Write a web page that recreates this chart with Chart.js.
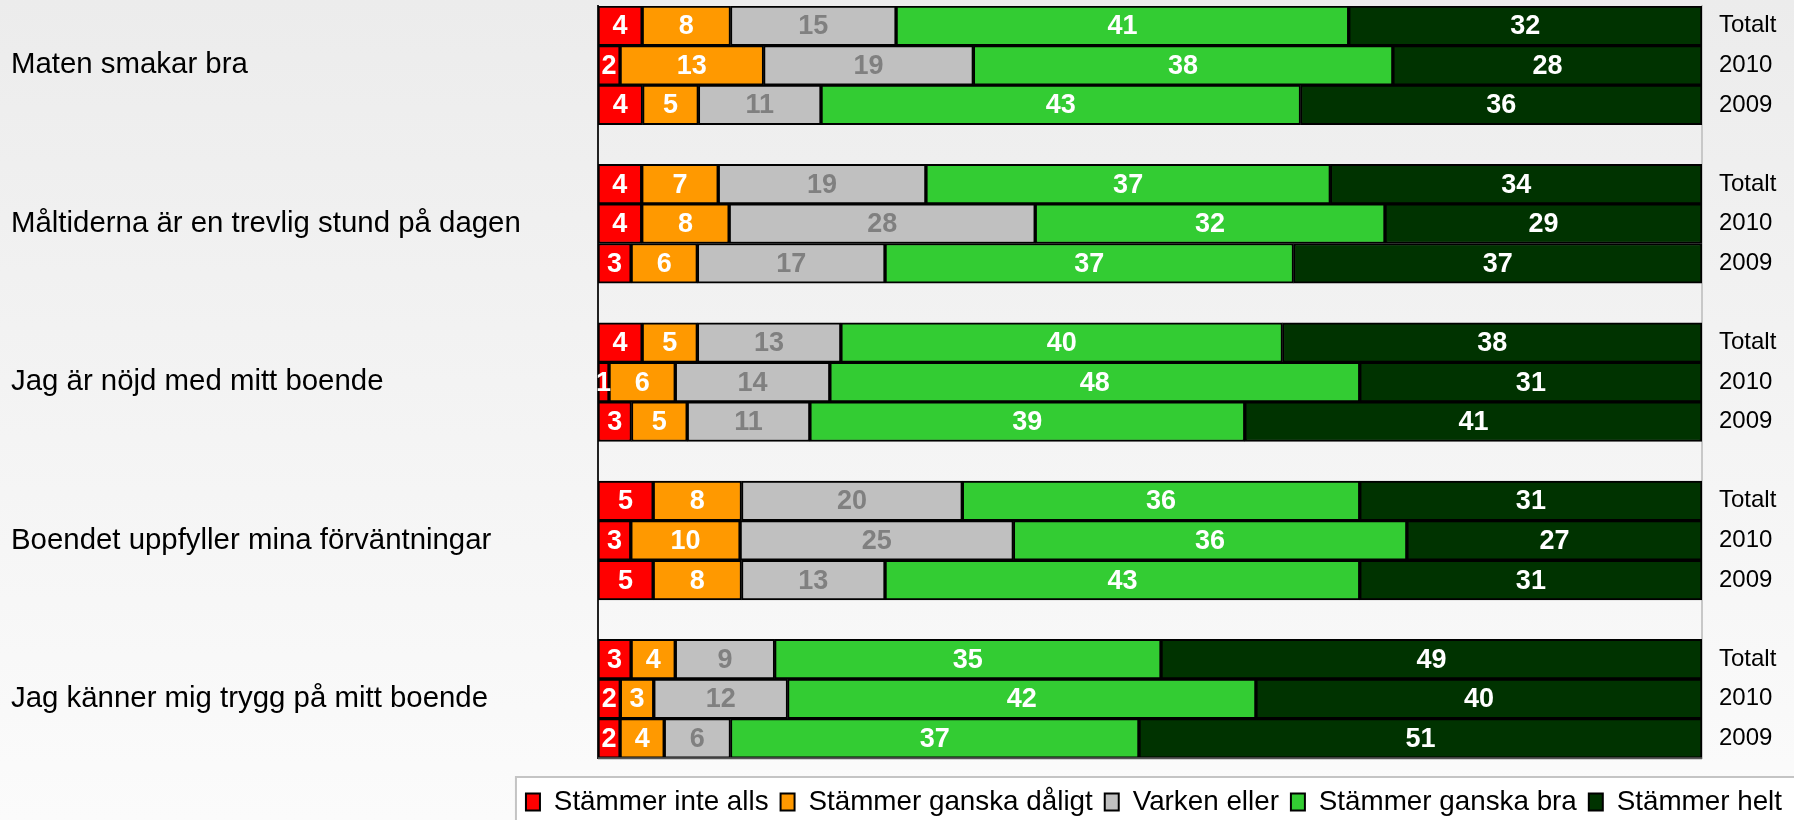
<!DOCTYPE html>
<html lang="sv">
<head>
<meta charset="utf-8">
<title>Trivsel och mat</title>
<script src="https://cdn.jsdelivr.net/npm/chart.js@4/dist/chart.umd.min.js"></script>
<style>
  html, body { margin: 0; padding: 0; }
  body {
    width: 1794px;
    height: 820px;
    overflow: hidden;
    background: linear-gradient(#ececec, #fbfbfb);
  }
  #wrap { position: relative; width: 1794px; height: 820px; }
</style>
</head>
<body>
<div id="wrap"><canvas id="chart" width="1794" height="820"></canvas></div>
<script>
// question groups, and the three rows shown for each one
const groups = [
  "Maten smakar bra",
  "Måltiderna är en trevlig stund på dagen",
  "Jag är nöjd med mitt boende",
  "Boendet uppfyller mina förväntningar",
  "Jag känner mig trygg på mitt boende"
];
const rowLabels = ["Totalt", "2010", "2009"];

const seriesNames = [
  "Stämmer inte alls",
  "Stämmer ganska dåligt",
  "Varken eller",
  "Stämmer ganska bra",
  "Stämmer helt"
];

// values per row: Totalt, 2010, 2009 for each group in order
const stammerInteAlls     = [4, 2, 4,   4, 4, 3,   4, 1, 3,   5, 3, 5,   3, 2, 2];
const stammerGanskaDaligt = [8, 13, 5,  7, 8, 6,   5, 6, 5,   8, 10, 8,  4, 3, 4];
const varkenEller         = [15, 19, 11, 19, 28, 17, 13, 14, 11, 20, 25, 13, 9, 12, 6];
const stammerGanskaBra    = [41, 38, 43, 37, 32, 37, 40, 48, 39, 36, 36, 43, 35, 42, 37];
const stammerHelt         = [32, 28, 36, 34, 29, 37, 38, 31, 41, 31, 27, 31, 49, 40, 51];

const fills = ["#ff0000", "#ff9900", "#c0c0c0", "#33cc33", "#003300"];
const labelColors = ["#ffffff", "#ffffff", "#808080", "#ffffff", "#ffffff"];

const allSeries = [stammerInteAlls, stammerGanskaDaligt, varkenEller, stammerGanskaBra, stammerHelt];
const FONT = '"Liberation Sans", Arial, sans-serif';

// build the category rows: 3 bars per group, then one empty row between groups
const leftLabels = [];
const rightLabels = [];
const rowIndex = []; // category slot -> data row (or null for the blank slot)
groups.forEach(function (g, gi) {
  rowLabels.forEach(function (r, ri) {
    leftLabels.push(ri === 1 ? g : "");
    rightLabels.push(r);
    rowIndex.push(gi * 3 + ri);
  });
  if (gi < groups.length - 1) {
    leftLabels.push("");
    rightLabels.push("");
    rowIndex.push(null);
  }
});

// 100% stacked: every row fills the full width
const rowSums = stammerInteAlls.map(function (_, i) {
  return allSeries.reduce(function (s, arr) { return s + arr[i]; }, 0);
});

const datasets = allSeries.map(function (arr, si) {
  return {
    label: seriesNames[si],
    data: rowIndex.map(function (r) { return r === null ? null : arr[r] / rowSums[r] * 100; }),
    raw: rowIndex.map(function (r) { return r === null ? null : arr[r]; }),
    backgroundColor: fills[si],
    borderColor: "#000000",
    borderWidth: 2,
    borderSkipped: false,
    barPercentage: 1,
    categoryPercentage: 1
  };
});

const barLabels = {
  id: "barLabels",
  afterDatasetsDraw(chart) {
    const ctx = chart.ctx;
    ctx.save();
    ctx.font = "bold 27px " + FONT;
    ctx.textAlign = "center";
    ctx.textBaseline = "middle";
    chart.data.datasets.forEach(function (ds, i) {
      const meta = chart.getDatasetMeta(i);
      meta.data.forEach(function (bar, j) {
        const v = ds.raw[j];
        if (v === null || v === undefined) return;
        ctx.fillStyle = labelColors[i];
        ctx.fillText(String(v), (bar.x + bar.base) / 2, bar.y + 1);
      });
    });
    ctx.restore();
  }
};

const frames = {
  id: "frames",
  beforeDraw(chart) {
    const ctx = chart.ctx;
    const lg = chart.legend;
    if (lg && lg.legendHitBoxes && lg.legendHitBoxes.length) {
      const first = lg.legendHitBoxes[0];
      ctx.save();
      ctx.fillStyle = "#ffffff";
      ctx.strokeStyle = "#c4c4c4";
      ctx.lineWidth = 2;
      ctx.fillRect(first.left - 10, 777, chart.width, 60);
      ctx.strokeRect(first.left - 10, 777, chart.width, 60);
      ctx.restore();
    }
  },
  afterDraw(chart) {
    const a = chart.chartArea;
    const ctx = chart.ctx;
    ctx.save();
    ctx.strokeStyle = "#555555";
    ctx.lineWidth = 2;
    ctx.beginPath();
    ctx.moveTo(a.left, a.bottom);
    ctx.lineTo(a.right, a.bottom);
    ctx.stroke();
    ctx.restore();
  }
};

function noEdgePadding(s) {
  s.paddingTop = 0;
  s.paddingBottom = 0;
}

new Chart(document.getElementById("chart").getContext("2d"), {
  type: "bar",
  data: { labels: leftLabels, datasets: datasets },
  plugins: [frames, barLabels],
  options: {
    responsive: false,
    animation: false,
    indexAxis: "y",
    layout: { padding: { top: 6, left: 11, right: 0, bottom: -6 } },
    scales: {
      x: {
        stacked: true,
        min: 0,
        max: 100,
        ticks: { display: false },
        grid: { display: false },
        border: { display: false },
        afterFit(s) { s.height = 18; }
      },
      y: {
        type: "category",
        position: "left",
        stacked: true,
        offset: true,
        labels: leftLabels,
        grid: { display: false, drawTicks: false },
        border: { display: true, color: "#222222", width: 2 },
        ticks: {
          autoSkip: false,
          crossAlign: "far",
          color: "#000000",
          font: { family: FONT, size: 29.4 }
        },
        afterFit(s) { s.width = 587; noEdgePadding(s); }
      },
      y2: {
        type: "category",
        position: "right",
        offset: true,
        labels: rightLabels,
        grid: { display: false, drawTicks: false },
        border: { display: true, color: "#c8c8c8", width: 2 },
        ticks: {
          autoSkip: false,
          padding: 17,
          color: "#000000",
          font: { family: FONT, size: 24 }
        },
        afterFit(s) { s.width = 92; noEdgePadding(s); }
      }
    },
    plugins: {
      tooltip: { enabled: false },
      legend: {
        position: "bottom",
        align: "end",
        labels: {
          color: "#000000",
          boxWidth: 14,
          boxHeight: 17,
          padding: 12,
          font: { family: FONT, size: 27.8 }
        }
      }
    }
  }
});
</script>
</body>
</html>
